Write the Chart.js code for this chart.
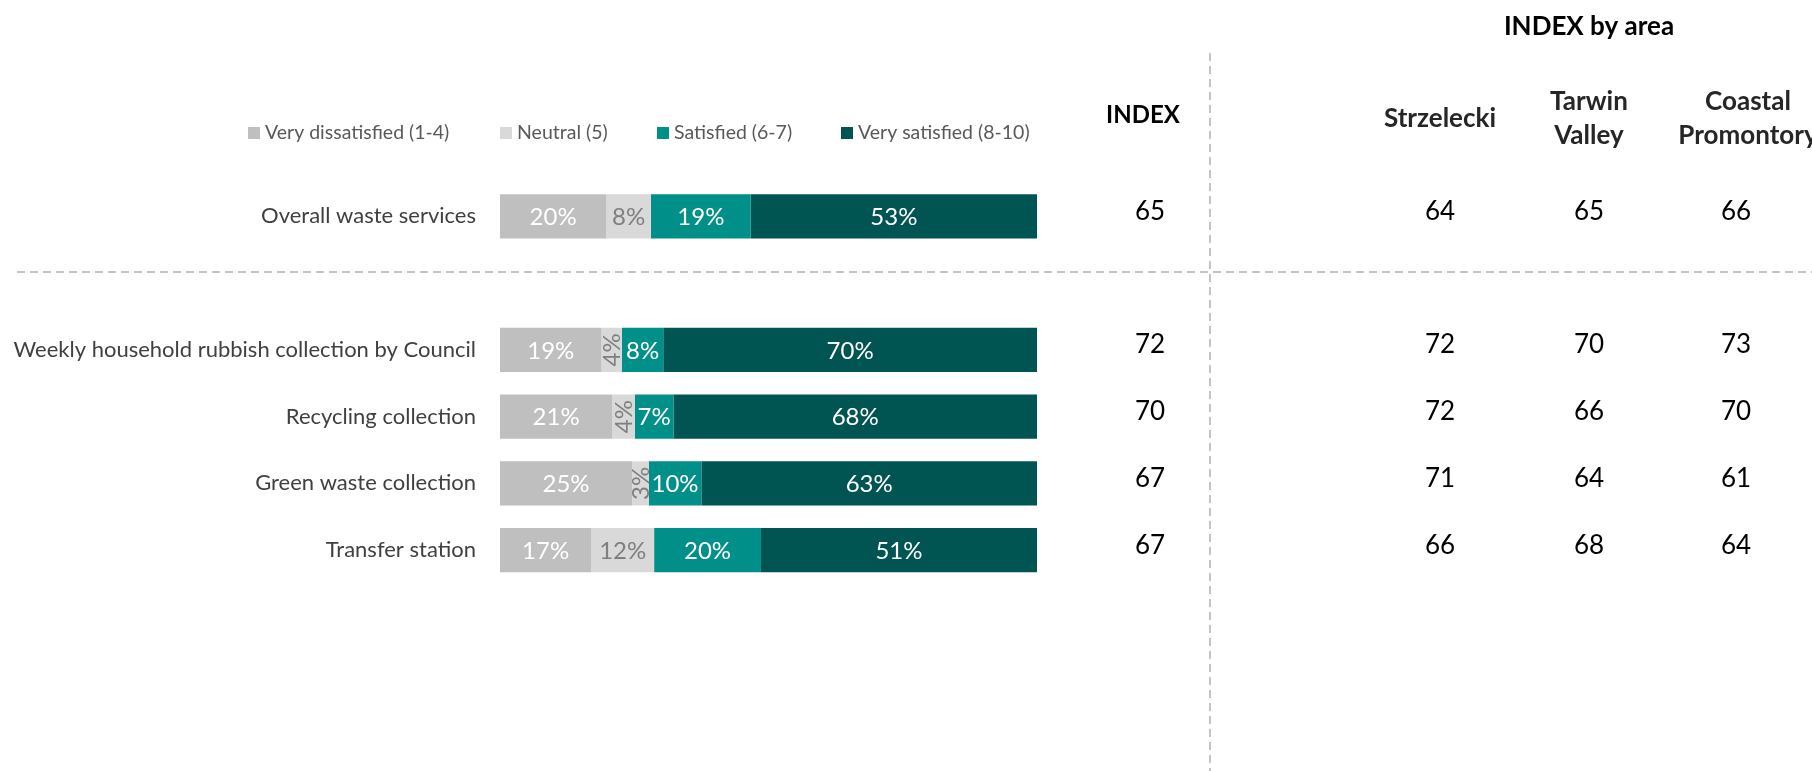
<!DOCTYPE html>
<html lang="en">
<head>
    <meta charset="UTF-8">
    <title>Satisfaction with waste services</title>
    <style>
        body {
            margin: 0;
            background: #fff;
        }
        #wrap {
            width: 1812px;
            height: 771px;
            position: relative;
        }
    </style>
</head>
<body>
    <div id="wrap">
        <canvas id="chart"></canvas>
    </div>

    <script src="https://cdn.jsdelivr.net/npm/chart.js"></script>
    <script>
        // Rows (blank rows keep the gap under the overall result)
        const categories = [
            'Overall waste services',
            '',
            'Weekly household rubbish collection by Council',
            'Recycling collection',
            'Green waste collection',
            'Transfer station',
            '',
            ''
        ];

        const seriesNames = ['Very dissatisfied (1-4)', 'Neutral (5)', 'Satisfied (6-7)', 'Very satisfied (8-10)'];

        // Shares in % (labels show them rounded)
        const veryDissatisfied = [19.8, null, 18.9, 20.9, 24.6, 17.0, null, null];
        const neutral          = [8.3,  null, 3.8,  4.2,  3.1,  11.7, null, null];
        const satisfied        = [18.6, null, 7.7,  7.2,  9.8,  19.9, null, null];
        const verySatisfied    = [53.3, null, 69.6, 67.7, 62.5, 51.4, null, null];

        const indexValues = [65, null, 72, 70, 67, 67, null, null];

        const areaNames = [['Strzelecki'], ['Tarwin', 'Valley'], ['Coastal', 'Promontory']];
        const strzelecki        = [64, null, 72, 72, 71, 66, null, null];
        const tarwinValley      = [65, null, 70, 66, 64, 68, null, null];
        const coastalPromontory = [66, null, 73, 70, 61, 64, null, null];
        const areaValues = [strzelecki, tarwinValley, coastalPromontory];

        const FONT = 'Lato, "Open Sans", sans-serif';
        const colors = ['#BFBFBF', '#D9D9D9', '#009089', '#005452'];
        const labelColors = ['#FFFFFF', '#7F7F7F', '#FFFFFF', '#FFFFFF'];

        // legend, dashed dividers, segment labels and the INDEX table
        const sideTable = {
            id: 'sideTable',
            afterDatasetsDraw(chart) {
                const ctx = chart.ctx;
                const yScale = chart.scales.y;
                const W = chart.width, H = chart.height;

                // segment labels
                chart.data.datasets.forEach((ds, di) => {
                    const meta = chart.getDatasetMeta(di);
                    meta.data.forEach((bar, i) => {
                        const v = ds.data[i];
                        if (v == null) return;
                        const cx = (bar.x + bar.base) / 2;
                        const cy = bar.y;
                        const segW = Math.abs(bar.x - bar.base);
                        ctx.save();
                        ctx.fillStyle = labelColors[di];
                        ctx.font = '24px ' + FONT;
                        ctx.textAlign = 'center';
                        ctx.textBaseline = 'middle';
                        const txt = Math.round(v) + '%';
                        if (segW < ctx.measureText(txt).width) {
                            ctx.translate(cx, cy);
                            ctx.rotate(-Math.PI / 2);
                            ctx.fillText(txt, 0, 1);
                        } else {
                            ctx.fillText(txt, cx, cy + 1);
                        }
                        ctx.restore();
                    });
                });

                ctx.save();
                // legend
                const legendX = [248, 500, 657, 841];
                const legendY = 133;
                ctx.font = '19.5px ' + FONT;
                ctx.textBaseline = 'middle';
                ctx.textAlign = 'left';
                chart.data.datasets.forEach((ds, di) => {
                    ctx.fillStyle = ds.backgroundColor;
                    ctx.fillRect(legendX[di], legendY - 6, 12, 12);
                    ctx.fillStyle = '#595959';
                    ctx.fillText(ds.label, legendX[di] + 17, legendY);
                });

                // dashed dividers
                ctx.strokeStyle = '#C4C4C4';
                ctx.lineWidth = 2;
                ctx.setLineDash([8, 5]);
                ctx.beginPath();
                ctx.moveTo(17, 272);
                ctx.lineTo(W, 272);
                ctx.moveTo(1210, 53);
                ctx.lineTo(1210, H);
                ctx.stroke();
                ctx.setLineDash([]);

                // headers
                ctx.fillStyle = '#000000';
                ctx.textAlign = 'center';
                ctx.font = 'bold 24px ' + FONT;
                ctx.fillText('INDEX', 1143, 115);
                ctx.font = 'bold 26px ' + FONT;
                ctx.fillText('INDEX by area', 1589, 27);
                const areaX = [1440, 1589, 1748];
                ctx.fillStyle = '#262626';
                areaNames.forEach((lines, k) => {
                    if (lines.length === 1) {
                        ctx.fillText(lines[0], areaX[k], 119);
                    } else {
                        ctx.fillText(lines[0], areaX[k], 102);
                        ctx.fillText(lines[1], areaX[k], 136);
                    }
                });

                // index values per row
                ctx.fillStyle = '#000000';
                ctx.font = '26px ' + FONT;
                const valueX = [1440, 1589, 1736];
                indexValues.forEach((v, i) => {
                    if (v == null) return;
                    const y = yScale.getPixelForValue(i);
                    ctx.fillText(String(v), 1150, y - 5);
                    areaValues.forEach((arr, k) => {
                        ctx.fillText(String(arr[i]), valueX[k], y - 5);
                    });
                });
                ctx.restore();
            }
        };

        const ctx = document.getElementById('chart').getContext('2d');
        const chart = new Chart(ctx, {
            type: 'bar',
            data: {
                labels: categories,
                datasets: [
                    { label: seriesNames[0], data: veryDissatisfied, backgroundColor: colors[0] },
                    { label: seriesNames[1], data: neutral, backgroundColor: colors[1] },
                    { label: seriesNames[2], data: satisfied, backgroundColor: colors[2] },
                    { label: seriesNames[3], data: verySatisfied, backgroundColor: colors[3] }
                ]
            },
            options: {
                indexAxis: 'y',
                responsive: true,
                maintainAspectRatio: false,
                animation: false,
                layout: {
                    padding: { left: 0, right: 775, top: 183, bottom: 54 }
                },
                datasets: {
                    bar: { categoryPercentage: 1, barPercentage: 0.66, borderWidth: 0 }
                },
                scales: {
                    x: {
                        stacked: true,
                        min: 0,
                        max: 100,
                        display: false
                    },
                    y: {
                        stacked: true,
                        grid: { display: false },
                        border: { display: false },
                        ticks: {
                            autoSkip: false,
                            padding: 16,
                            color: '#404040',
                            font: { family: FONT, size: 22 }
                        },
                        afterFit(scale) {
                            scale.width = 500;
                        }
                    }
                },
                plugins: {
                    legend: { display: false },
                    tooltip: { enabled: false }
                }
            },
            plugins: [sideTable]
        });
    </script>
</body>
</html>
